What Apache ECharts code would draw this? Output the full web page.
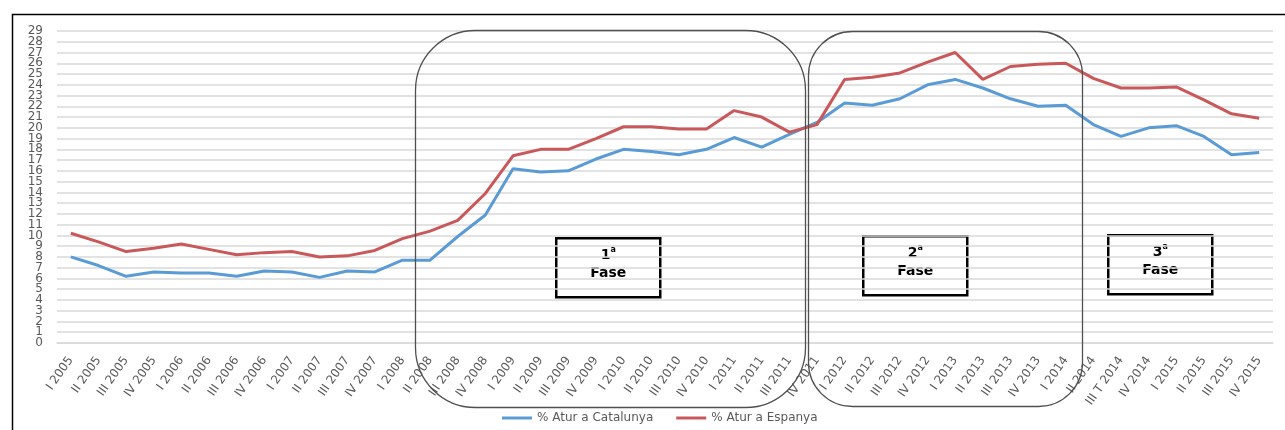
<!DOCTYPE html>
<html>
<head>
<meta charset="utf-8">
<script src="https://cdn.jsdelivr.net/npm/echarts@6/dist/echarts.min.js"></script>
<style>
html,body{margin:0;padding:0;background:#fff;}
#chart{width:1285px;height:430px;}
</style>
</head>
<body>
<div id="chart"></div>
<script>
var categories = [
  "I 2005","II 2005","III 2005","IV 2005",
  "I 2006","II 2006","III 2006","IV 2006",
  "I 2007","II 2007","III 2007","IV 2007",
  "I 2008","II 2008","III 2008","IV 2008",
  "I 2009","II 2009","III 2009","IV 2009",
  "I 2010","II 2010","III 2010","IV 2010",
  "I 2011","II 2011","III 2011","IV 2011",
  "I 2012","II 2012","III 2012","IV 2012",
  "I 2013","II 2013","III 2013","IV 2013",
  "I 2014","II 2014","III T 2014","IV 2014",
  "I 2015","II 2015","III 2015","IV 2015"
];
var aturCatalunya = [
  8.0,7.2,6.2,6.6,
  6.5,6.5,6.2,6.7,
  6.6,6.1,6.7,6.6,
  7.7,7.7,9.9,11.9,
  16.2,15.9,16.0,17.1,
  18.0,17.8,17.5,18.0,
  19.1,18.2,19.4,20.5,
  22.3,22.1,22.7,24.0,
  24.5,23.7,22.7,22.0,
  22.1,20.3,19.2,20.0,
  20.2,19.2,17.5,17.7
];
var aturEspanya = [
  10.2,9.4,8.5,8.8,
  9.2,8.7,8.2,8.4,
  8.5,8.0,8.1,8.6,
  9.7,10.4,11.4,13.9,
  17.4,18.0,18.0,19.0,
  20.1,20.1,19.9,19.9,
  21.6,21.0,19.6,20.3,
  24.5,24.7,25.1,26.1,
  27.0,24.5,25.7,25.9,
  26.0,24.6,23.7,23.7,
  23.8,22.6,21.3,20.9
];
var seriesNames = ["% Atur a Catalunya", "% Atur a Espanya"];
var phaseLabels = ["1", "2", "3"];
var yMin = 0, yMax = 29, yStep = 1;

var chart = echarts.init(document.getElementById('chart'));
var FONT = '"DejaVu Sans", sans-serif';

function phaseBox(x, y, label) {
  return {
    type: 'group', left: x, top: y, z: 100,
    children: [
      { type: 'rect', shape: { x: 0, y: 0, width: 104, height: 59 },
        style: { fill: '#ffffff', stroke: '#000000', lineWidth: 2.5 } },
      { type: 'text', x: 52, y: 26,
        style: {
          text: '{n|' + label + '}{s|a}\n{f|Fase}',
          align: 'center', verticalAlign: 'middle',
          font: 'bold 14px ' + FONT,
          fill: '#000',
          rich: {
            n: { fontFamily: FONT, fontWeight: 'bold', fontSize: 14, lineHeight: 18, fill: '#000' },
            s: { fontFamily: FONT, fontWeight: 'bold', fontSize: 8, lineHeight: 18, verticalAlign: 'top', fill: '#000' },
            f: { fontFamily: FONT, fontWeight: 'bold', fontSize: 14, lineHeight: 18, fill: '#000' }
          }
        } }
    ]
  };
}

function yAxisFor(parity, withGrid) {
  return {
    type: 'value', position: 'left', offset: 0,
    min: yMin, max: yMax, interval: yStep,
    axisLine: { show: false },
    axisTick: { show: false },
    axisLabel: {
      fontFamily: FONT, fontSize: 12, color: '#595959', margin: 14,
      showMinLabel: parity === 0, showMaxLabel: parity === 1,
      formatter: function (v) { return (Math.round(v) % 2 === parity) ? String(v) : ''; }
    },
    splitLine: { show: withGrid, lineStyle: { color: '#d9d9d9', width: 1.5 } }
  };
}

var option = {
  animation: false,
  backgroundColor: '#ffffff',
  grid: { left: 57, right: 12, top: 31, bottom: 87, containLabel: false, outerBoundsMode: 'none' },
  legend: {
    left: 497, top: 407,
    itemWidth: 30, itemHeight: 3, itemGap: 23,
    icon: 'rect',
    textStyle: { fontFamily: FONT, fontSize: 12, color: '#595959' },
    data: seriesNames
  },
  xAxis: {
    type: 'category',
    data: categories,
    boundaryGap: true,
    axisLine: { show: true, lineStyle: { color: '#d9d9d9', width: 1.5 } },
    axisTick: { show: false },
    axisLabel: {
      rotate: 55, interval: 0, margin: 15,
      fontFamily: FONT, fontSize: 12, color: '#595959'
    },
    splitLine: { show: false }
  },
  yAxis: [ yAxisFor(0, true), yAxisFor(1, false) ],
  series: [
    {
      name: seriesNames[0], type: 'line', data: aturCatalunya, yAxisIndex: 0,
      showSymbol: false, symbol: 'none',
      lineStyle: { color: '#5b9bd5', width: 3 },
      itemStyle: { color: '#5b9bd5' }
    },
    {
      name: seriesNames[1], type: 'line', data: aturEspanya, yAxisIndex: 0,
      showSymbol: false, symbol: 'none',
      lineStyle: { color: '#c9585a', width: 3 },
      itemStyle: { color: '#c9585a' }
    }
  ],
  graphic: [
    { type: 'rect', left: 10, top: 12, z: 0, silent: true,
      shape: { width: 1290, height: 440 },
      style: { fill: 'none', stroke: '#000000', lineWidth: 1.5 } },
    { type: 'rect', left: 413, top: 28, z: 90, silent: true,
      shape: { width: 390, height: 377, r: 60 },
      style: { fill: 'none', stroke: '#505050', lineWidth: 1.3 } },
    { type: 'rect', left: 806, top: 29, z: 90, silent: true,
      shape: { width: 274, height: 375, r: 44 },
      style: { fill: 'none', stroke: '#505050', lineWidth: 1.3 } },
    phaseBox(555, 237, phaseLabels[0]),
    phaseBox(862, 235, phaseLabels[1]),
    phaseBox(1107, 234, phaseLabels[2])
  ]
};
chart.setOption(option);
</script>
</body>
</html>
